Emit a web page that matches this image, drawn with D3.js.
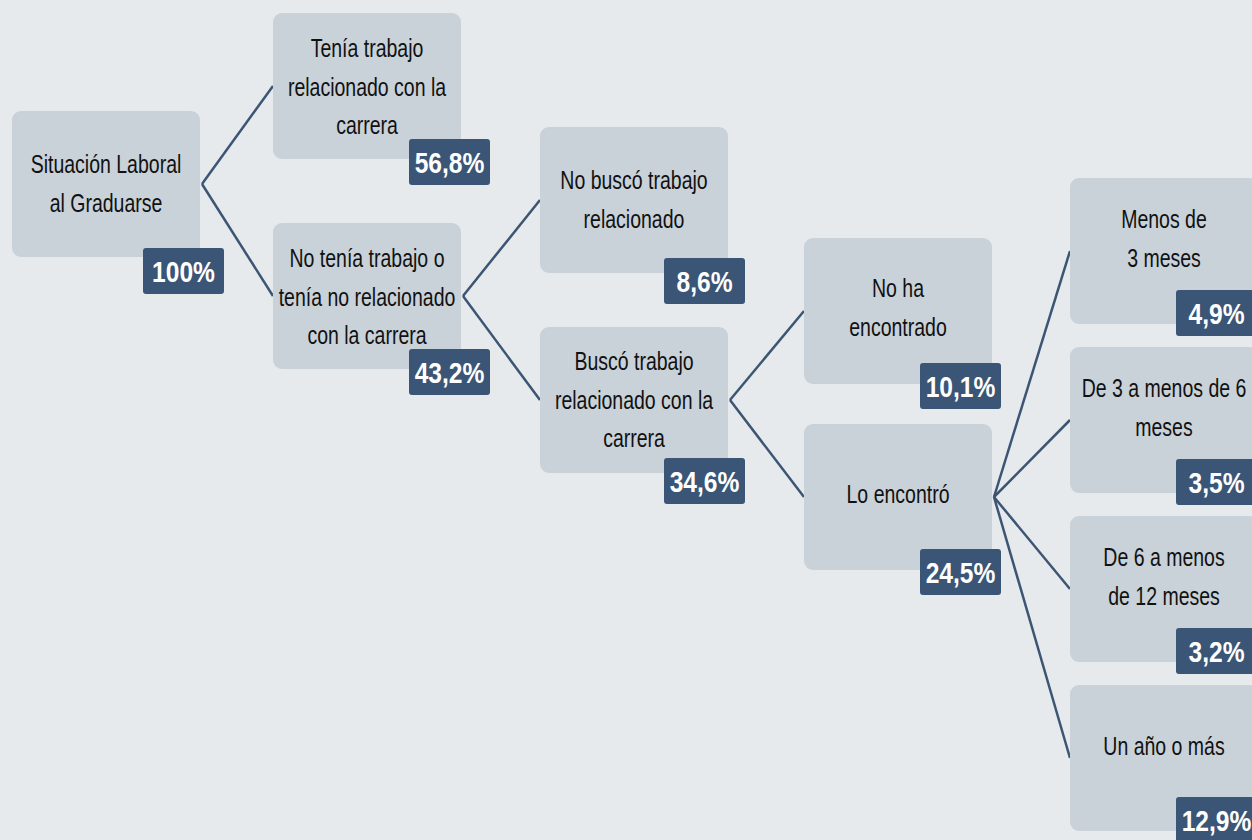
<!DOCTYPE html>
<html lang="es">
<meta charset="utf-8">
<title>Situación Laboral al Graduarse</title>
<style>
html, body { margin: 0; padding: 0; background: #e6eaed; }
svg { display: block; }
.label { font-family: "Liberation Sans", Arial, sans-serif; font-size: 25px; fill: #111; }
.badge-text { font-family: "Liberation Sans", Arial, sans-serif; font-size: 30px; font-weight: bold; fill: #fff; }
.link { fill: none; stroke: #3c5573; stroke-width: 2.5; }
</style>
<body>
<script src="https://cdnjs.cloudflare.com/ajax/libs/d3/7.8.5/d3.min.js"></script>
<script>
// tree data
var nodeIds = ["root", "tenia", "noTenia", "noBusco", "busco", "noHa", "loEncontro", "menos3", "de3a6", "de6a12", "unAno"]
var nodeParents = ["", "root", "root", "noTenia", "noTenia", "busco", "busco", "loEncontro", "loEncontro", "loEncontro", "loEncontro"]
var nodeLabels = [
  "Situación Laboral\nal Graduarse",
  "Tenía trabajo\nrelacionado con la\ncarrera",
  "No tenía trabajo o\ntenía no relacionado\ncon la carrera",
  "No buscó trabajo\nrelacionado",
  "Buscó trabajo\nrelacionado con la\ncarrera",
  "No ha\nencontrado",
  "Lo encontró",
  "Menos de\n3 meses",
  "De 3 a menos de 6\nmeses",
  "De 6 a menos\nde 12 meses",
  "Un año o más"
]
var nodeValues = [100, 56.8, 43.2, 8.6, 34.6, 10.1, 24.5, 4.9, 3.5, 3.2, 12.9]

var width = 1252, height = 840
var boxW = 188, boxH = 146
var badgeW = 81, badgeH = 46
var sx = 0.78

// layout of each column: left edge, top of first box, gap between boxes,
// badge offset inside the box and vertical shift of the label
var columns = [
  { left: 12,   top: 111, gap: 0,  badgeX: 131, badgeUp: 9,  textDy: 0 },
  { left: 273,  top: 13,  gap: 64, badgeX: 136, badgeUp: 20, textDy: 1 },
  { left: 540,  top: 127, gap: 54, badgeX: 124, badgeUp: 15, textDy: 0 },
  { left: 804,  top: 238, gap: 40, badgeX: 116, badgeUp: 21, textDy: -3 },
  { left: 1070, top: 178, gap: 23, badgeX: 106, badgeUp: 34, textDy: -12 }
]

var table = nodeIds.map(function(id, i) {
  return { id: id, parent: nodeParents[i] || null, label: nodeLabels[i], value: nodeValues[i] }
})

var root = d3.stratify()
  .id(function(d) { return d.id })
  .parentId(function(d) { return d.parent })(table)

var nodes = root.descendants()

var x = d3.scaleOrdinal()
  .domain(d3.range(columns.length))
  .range(columns.map(function(c) { return c.left }))

var yScales = columns.map(function(c, depth) {
  var ids = nodes.filter(function(n) { return n.depth === depth }).map(function(n) { return n.id })
  var n = ids.length
  return d3.scaleBand()
    .domain(ids)
    .range([c.top, c.top + n * boxH + (n - 1) * c.gap])
    .paddingInner(c.gap / (boxH + c.gap))
    .paddingOuter(0)
})

nodes.forEach(function(n) {
  n.bx = x(n.depth)
  n.by = yScales[n.depth](n.id)
  n.col = columns[n.depth]
})

var fmt = function(v) {
  return v === 100 ? "100%" : v.toFixed(1).replace(".", ",") + "%"
}

var svg = d3.select("body").append("svg")
  .attr("width", width)
  .attr("height", height)

svg.append("rect")
  .attr("width", width)
  .attr("height", height)
  .attr("fill", "#e6eaed")

// connectors
svg.append("g")
  .selectAll("path")
  .data(root.links())
  .enter()
  .append("path")
  .attr("class", "link")
  .attr("d", function(d) {
    return "M" + (d.source.bx + boxW + 2) + "," + (d.source.by + boxH / 2) +
      "L" + d.target.bx + "," + (d.target.by + boxH / 2)
  })

var node = svg.append("g")
  .selectAll("g")
  .data(nodes)
  .enter()
  .append("g")
  .attr("transform", function(d) { return "translate(" + d.bx + "," + d.by + ")" })

node.append("rect")
  .attr("width", boxW)
  .attr("height", boxH)
  .attr("rx", 9)
  .attr("fill", "#c9d1d9")

node.each(function(d) {
  var lines = d.data.label.split("\n")
  var lh = 38.5
  var y0 = boxH / 2 + d.col.textDy - (lines.length - 1) * lh / 2
  var t = d3.select(this).append("text")
    .attr("class", "label")
    .attr("text-anchor", "middle")
    .attr("transform", "translate(" + (boxW / 2) + ",0) scale(" + sx + ",1)")
  lines.forEach(function(line, i) {
    t.append("tspan")
      .attr("x", 0)
      .attr("y", y0 + i * lh)
      .attr("dy", "0.35em")
      .text(line)
  })
})

// percentage badges
var badge = node.append("g")
  .attr("transform", function(d) {
    return "translate(" + d.col.badgeX + "," + (boxH - d.col.badgeUp) + ")"
  })

badge.append("rect")
  .attr("width", badgeW)
  .attr("height", badgeH)
  .attr("rx", 3)
  .attr("fill", "#3a5576")

badge.append("text")
  .attr("class", "badge-text")
  .attr("text-anchor", "middle")
  .attr("transform", "translate(" + (badgeW / 2) + "," + (badgeH / 2) + ") scale(0.82,1)")
  .attr("dy", "0.36em")
  .text(function(d) { return fmt(d.data.value) })
</script>
</body>
</html>
